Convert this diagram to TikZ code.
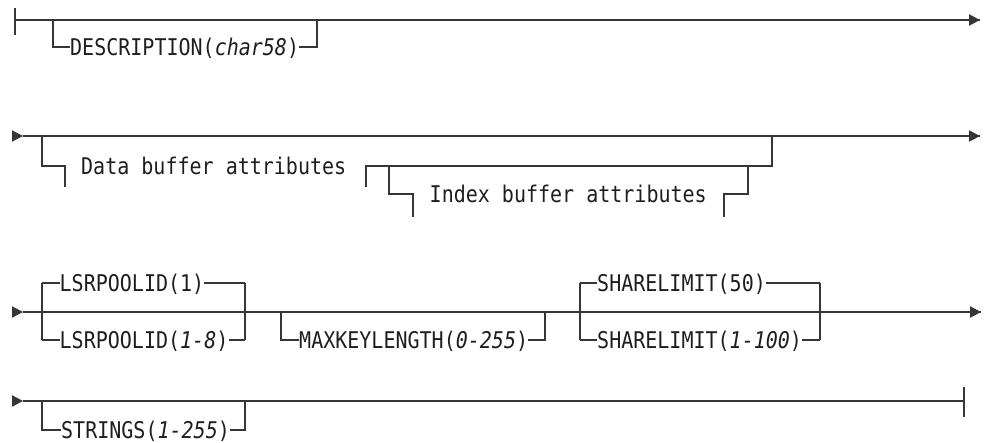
\documentclass[tikz,border=0pt]{standalone}
\usepackage{fontspec}
\setmonofont{DejaVu Sans Mono}[FakeStretch=0.87]
\definecolor{ln}{HTML}{363636}
\definecolor{tx}{HTML}{1E1E1E}
\tikzset{
  rail/.style={draw=ln, line width=1.3pt},
  lbl/.style={font=\ttfamily\fontsize{23}{24}\selectfont, text=tx, inner sep=0pt,
    anchor=west, text height=16.8pt, text depth=0pt},
  tip/.style={fill=ln, draw=none},
}
\newcommand{\railtip}[1]{\fill[tip] (#1) -- ++(-11,-5.8) -- ++(0,11.6) -- cycle;}
\begin{document}
\begin{tikzpicture}[x=1pt,y=-1pt]
\useasboundingbox[fill=white] (0,0) rectangle (984,442);

% ---------- Row 1 ----------
\coordinate (b1t) at (15,8); \coordinate (b1b) at (15,35);
\coordinate (r1s) at (15,20); \coordinate (r1e) at (980,20);
\draw[rail] (b1t) -- (b1b);
\draw[rail] (r1s) -- (r1e); \railtip{r1e}
\node[lbl] (desc) at (70,47) {DESCRIPTION(\textit{char58})};
\coordinate (r1a) at (53,20); \coordinate (r1ab) at (53,47);
\coordinate (r1b) at (317,20); \coordinate (r1bb) at (317,47);
\draw[rail] (r1a) -- (r1ab) -- (desc.west);
\draw[rail] (desc.east) -- (r1bb) -- (r1b);

% ---------- Row 2 ----------
\coordinate (r2s) at (23,136); \coordinate (r2e) at (980,136);
\railtip{r2s}
\draw[rail] (r2s) -- (r2e); \railtip{r2e}
\coordinate (o2a) at (42,136); \coordinate (o2ab) at (42,166);
\coordinate (f1t) at (65,166); \coordinate (f1b) at (65,187);
\node[lbl] (data) at (81,166) {Data buffer attributes};
\coordinate (f2t) at (366,166); \coordinate (f2b) at (366,187);
\coordinate (o2b) at (772,136); \coordinate (o2bb) at (772,166);
\draw[rail] (o2a) -- (o2ab) -- (f1t) -- (f1b);
\draw[rail] (f2b) -- (f2t) -- (o2bb) -- (o2b);
\coordinate (i2a) at (389,166); \coordinate (i2ab) at (389,194);
\coordinate (f3t) at (413,194); \coordinate (f3b) at (413,217);
\node[lbl] (index) at (429.5,194) {Index buffer attributes};
\coordinate (f4t) at (724,194); \coordinate (f4b) at (724,217);
\coordinate (i2b) at (748,166); \coordinate (i2bb) at (748,194);
\draw[rail] (i2a) -- (i2ab) -- (f3t) -- (f3b);
\draw[rail] (f4b) -- (f4t) -- (i2bb) -- (i2b);

% ---------- Row 3 ----------
\coordinate (r3s) at (23,312); \coordinate (r3e) at (981,312);
\railtip{r3s}
\draw[rail] (r3s) -- (r3e); \railtip{r3e}
% LSRPOOLID
\coordinate (l3t) at (42,283); \coordinate (l3b) at (42,340);
\coordinate (l3tr) at (245,283); \coordinate (l3br) at (245,340);
\node[lbl] (lsr1) at (59.5,283) {LSRPOOLID(1)};
\node[lbl] (lsr2) at (59.5,340) {LSRPOOLID(\textit{1-8})};
\draw[rail] (l3t) -- (l3b);
\draw[rail] (l3tr) -- (l3br);
\draw[rail] (l3t) -- (lsr1.west);
\draw[rail] (lsr1.east) -- (l3tr);
\draw[rail] (l3b) -- (lsr2.west);
\draw[rail] (lsr2.east) -- (l3br);
% MAXKEYLENGTH
\coordinate (m3a) at (281,312); \coordinate (m3ab) at (281,340);
\coordinate (m3b) at (545,312); \coordinate (m3bb) at (545,340);
\node[lbl] (maxk) at (299,340) {MAXKEYLENGTH(\textit{0-255})};
\draw[rail] (m3a) -- (m3ab) -- (maxk.west);
\draw[rail] (maxk.east) -- (m3bb) -- (m3b);
% SHARELIMIT
\coordinate (s3t) at (580,283); \coordinate (s3b) at (580,340);
\coordinate (s3tr) at (820,283); \coordinate (s3br) at (820,340);
\node[lbl] (sh1) at (597,283) {SHARELIMIT(50)};
\node[lbl] (sh2) at (597,340) {SHARELIMIT(\textit{1-100})};
\draw[rail] (s3t) -- (s3b);
\draw[rail] (s3tr) -- (s3br);
\draw[rail] (s3t) -- (sh1.west);
\draw[rail] (sh1.east) -- (s3tr);
\draw[rail] (s3b) -- (sh2.west);
\draw[rail] (sh2.east) -- (s3br);

% ---------- Row 4 ----------
\coordinate (r4s) at (23,401); \coordinate (r4e) at (964,401);
\coordinate (e4t) at (964,387); \coordinate (e4b) at (964,417);
\railtip{r4s}
\draw[rail] (r4s) -- (r4e);
\draw[rail] (e4t) -- (e4b);
\coordinate (s4a) at (42,401); \coordinate (s4ab) at (42,430);
\coordinate (s4b) at (245,401); \coordinate (s4bb) at (245,430);
\node[lbl] (str) at (61,430) {STRINGS(\textit{1-255})};
\draw[rail] (s4a) -- (s4ab) -- (str.west);
\draw[rail] (str.east) -- (s4bb) -- (s4b);
\end{tikzpicture}
\end{document}
